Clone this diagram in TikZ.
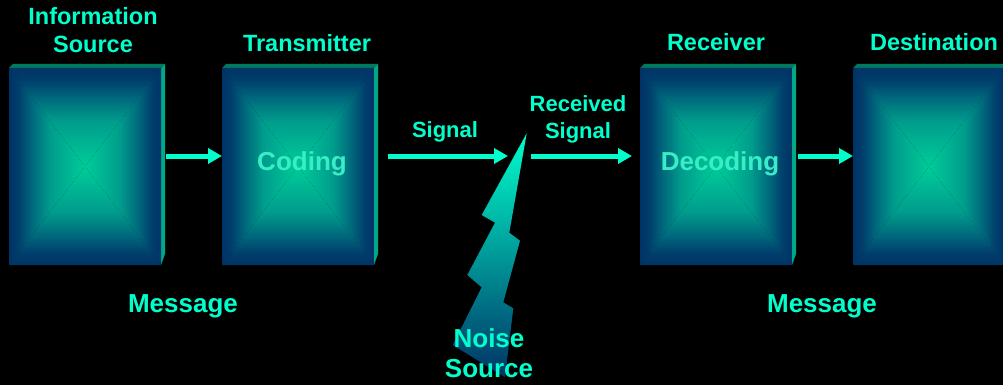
\documentclass[tikz,border=0pt]{standalone}
\usepackage{fontspec}
\setmainfont{Liberation Sans}
\usepackage{tikz}
\usetikzlibrary{arrows.meta}
\definecolor{aqua}{HTML}{00FFCC}
\definecolor{boxedge}{HTML}{003366}
\definecolor{boxmid}{HTML}{00CC99}
\definecolor{boxtop}{HTML}{007A5E}
\definecolor{boxside}{HTML}{00A885}
\definecolor{inlbl}{HTML}{38EEC6}
\definecolor{boltmid}{HTML}{00B09A}
\definecolor{facehi}{HTML}{009C8C}
\definecolor{facelo}{HTML}{00687C}
\definecolor{facerim}{HTML}{003E6C}
% bright at the bottom of the box, dark at its top
\pgfdeclareverticalshading{facefade}{100bp}{color(0bp)=(boxmid); color(25bp)=(boxmid);
  color(48bp)=(facehi); color(60bp)=(facelo); color(69bp)=(facerim); color(75bp)=(boxedge); color(100bp)=(boxedge)}
\newcommand{\slab}[1]{%
  \fill[boxtop] (#1.north west) -- ++(4,-4) -- ++(152,0) -- (#1.north east) -- cycle;
  \fill[boxside] (#1.north east) -- ++(4,-4) -- ++(0,190) -- (#1.south east) -- cycle;
  \shade[shading=facefade] (#1.north west) -- (#1.north east) -- (#1.center) -- cycle;
  \shade[shading=facefade, shading angle=180] (#1.south west) -- (#1.south east) -- (#1.center) -- cycle;
  \shade[shading=facefade, shading angle=90] (#1.north west) -- (#1.south west) -- (#1.center) -- cycle;
  \shade[shading=facefade, shading angle=-90] (#1.north east) -- (#1.south east) -- (#1.center) -- cycle;
}
\tikzset{
  stage/.style={minimum width=152pt, minimum height=197pt, inner sep=0pt, outer sep=0pt},
  head/.style={text=aqua, anchor=base, inner sep=0pt, font=\bfseries\fontsize{23.5}{26}\selectfont},
  tag/.style={text=aqua, anchor=base, inner sep=0pt, font=\bfseries\fontsize{26}{28}\selectfont},
  inner/.style={text=inlbl, anchor=base, inner sep=0pt, font=\bfseries\fontsize{26}{28}\selectfont},
  small/.style={text=aqua, anchor=base, inner sep=0pt, align=center, font=\bfseries\fontsize{22}{27}\selectfont},
  sig/.style={draw=aqua, line width=5pt, -{Triangle[length=14pt,width=15pt]}}
}
\begin{document}
\begin{tikzpicture}[x=1pt, y=-1pt]
\fill[black] (0,0) rectangle (1003,385);
\clip (0,0) rectangle (1003,385);

% blocks
\node[stage] (src) at (85,166.5) {};
\node[stage] (tx) at (298,166.5) {};
\node[stage] (rx) at (716,166.5) {};
\node[stage] (dst) at (929,166.5) {};
\foreach \b in {src,tx,rx,dst} {\slab{\b}}

% noise bolt
\shade[top color=aqua, middle color=boltmid, bottom color=boxedge]
  (526.7,133.3) -- (481.7,215) -- (495,222.7) -- (467.3,275) -- (481.7,287.3)
  -- (452.7,345) -- (505,377.3) -- (513.3,308.3) -- (503.3,302.3)
  -- (520,240.7) -- (509.3,232.7) -- cycle;

% signal path
\coordinate (axis) at (0,156);
\coordinate (sigend) at (508,156);
\coordinate (rxstart) at (531,156);
\draw[sig, shorten <=5pt] (src.east |- axis) -- (tx.west |- axis);
\draw[sig, shorten <=14pt] (tx.east |- axis) -- (sigend);
\draw[sig, shorten >=8pt] (rxstart) -- (rx.west |- axis);
\draw[sig, shorten <=6pt] (rx.east |- axis) -- (dst.west |- axis);

% labels
\node[head] (srcA) at (93,25) {Information};
\node[head] (srcB) at (93,53) {Source};
\node[head] (txlbl) at (307,52) {Transmitter};
\node[head] (rxlbl) at (716,51) {Receiver};
\node[head] (dstlbl) at (934,51) {Destination};
\node[inner] (code) at (302,170) {Coding};
\node[inner] (decode) at (720,170) {Decoding};
\node[tag] (msgA) at (183,312) {Message};
\node[tag] (msgB) at (822,312) {Message};
\node[small] (siglbl) at (445,137) {Signal};
\node[small] (rcvA) at (578,112) {Received};
\node[small] (rcvB) at (578,139) {Signal};
\node[tag] (noiseA) at (489,347) {Noise};
\node[tag] (noiseB) at (489,377) {Source};
\end{tikzpicture}
\end{document}
